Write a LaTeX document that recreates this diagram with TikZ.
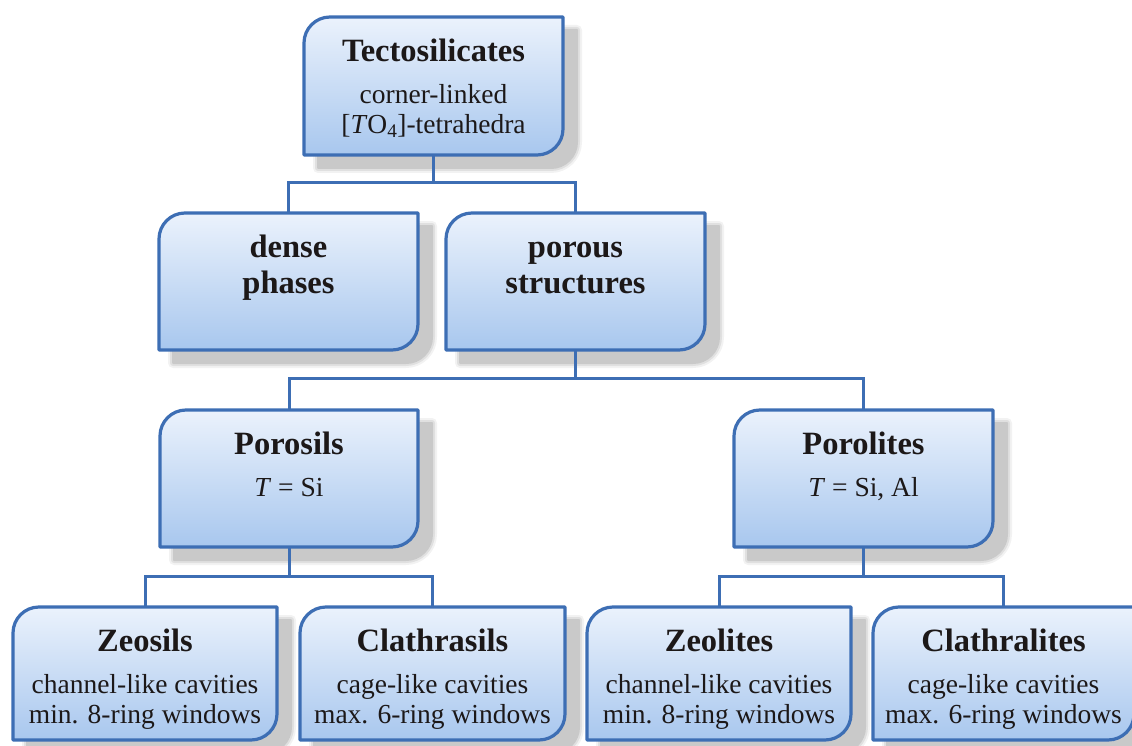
\documentclass[tikz,border=0pt]{standalone}
\usepackage{fontspec}
\setmainfont{Liberation Serif}
\definecolor{bordercol}{RGB}{61,110,180}
\definecolor{topcol}{RGB}{235,242,252}
\definecolor{botcol}{RGB}{168,199,238}
\definecolor{txtcol}{RGB}{28,24,24}
\newcommand\titlef{\fontsize{32.5}{36}\selectfont\bfseries}
\newcommand\tbox[6]{%
  \foreach \w/\o in {10/0.05,6/0.07,2/0.1}{%
    \draw[line width=\w, draw=black, opacity=\o, line join=round]
      (#2+14,-#5-13) -- (#2+14,-#3-13-26) arc[start angle=180,end angle=90,radius=26]
      -- (#4+14,-#3-13) -- (#4+14,-#5-13+26) arc[start angle=0,end angle=-90,radius=26] -- cycle;}
  \fill[shadowfill]
      (#2+14,-#5-13) -- (#2+14,-#3-13-26) arc[start angle=180,end angle=90,radius=26]
      -- (#4+14,-#3-13) -- (#4+14,-#5-13+26) arc[start angle=0,end angle=-90,radius=26] -- cycle;
  \node[boxanchor,minimum width={#4-#2},minimum height={#5-#3}] (#1) at ({(#2+#4)/2},{-(#3+#5)/2}) {};
  \draw[boxfill] (#1.south west) -- ([yshift=-26]#1.north west) arc[start angle=180,end angle=90,radius=26]
      -- (#1.north east) -- ([yshift=26]#1.south east) arc[start angle=0,end angle=-90,radius=26] -- cycle;
  \node[boxtext] (#1-t) at ({(#2+#4)/2},{-#3-19}) {#6};
}
\begin{document}
\begin{tikzpicture}[x=1pt,y=1pt,
  boxanchor/.style={rectangle,inner sep=0pt,outer sep=0pt,draw=none},
  boxfill/.style={draw=bordercol,line width=3.2pt,top color=topcol,bottom color=botcol,line join=round},
  shadowfill/.style={fill=black!21,draw=none},
  conn/.style={draw=bordercol,line width=3pt},
  boxtext/.style={anchor=north,inner sep=0pt,align=center,text=txtcol,font=\fontsize{27.5}{30}\selectfont},
  ]
\useasboundingbox (0,0) rectangle (1132,-746);
\fill[white] (0,0) rectangle (1132,-746);

\tbox{tecto}{304}{17}{563}{155}{\rule{0pt}{25pt}{\titlef Tectosilicates}\\[12pt]corner-linked\\{}[\textit{T}O\textsubscript{4}]-tetrahedra}
\tbox{dense}{159}{213}{418}{350}{\rule{0pt}{25pt}{\titlef dense}\\[6pt]{\titlef phases}}
\tbox{porous}{446}{213}{705}{350}{\rule{0pt}{25pt}{\titlef porous}\\[6pt]{\titlef structures}}
\tbox{porosils}{160}{410}{418}{547}{\rule{0pt}{25pt}{\titlef Porosils}\\[12pt]\textit{T} = Si}
\tbox{porolites}{734}{410}{993}{547}{\rule{0pt}{25pt}{\titlef Porolites}\\[12pt]\textit{T} = Si, Al}
\tbox{zeosils}{13}{607}{277}{740}{\rule{0pt}{25pt}{\titlef Zeosils}\\[12pt]channel-like cavities\\min. 8-ring windows}
\tbox{clathrasils}{300}{607}{565}{740}{\rule{0pt}{25pt}{\titlef Clathrasils}\\[12pt]cage-like cavities\\max. 6-ring windows}
\tbox{zeolites}{587}{607}{851}{740}{\rule{0pt}{25pt}{\titlef Zeolites}\\[12pt]channel-like cavities\\min. 8-ring windows}
\tbox{clathralites}{873}{607}{1134}{740}{\rule{0pt}{25pt}{\titlef Clathralites}\\[12pt]cage-like cavities\\max. 6-ring windows}

\draw[conn] (tecto.south) -- ++(0,-28) -| (dense.north);
\draw[conn] (tecto.south) -- ++(0,-28) -| (porous.north);
\draw[conn] (porous.south) -- ++(0,-28) -| (porosils.north);
\draw[conn] (porous.south) -- ++(0,-28) -| (porolites.north);
\draw[conn] (porosils.south) -- ++(0,-29) -| (zeosils.north);
\draw[conn] (porosils.south) -- ++(0,-29) -| (clathrasils.north);
\draw[conn] (porolites.south) -- ++(0,-29) -| (zeolites.north);
\draw[conn] (porolites.south) -- ++(0,-29) -| (clathralites.north);
\end{tikzpicture}
\end{document}
